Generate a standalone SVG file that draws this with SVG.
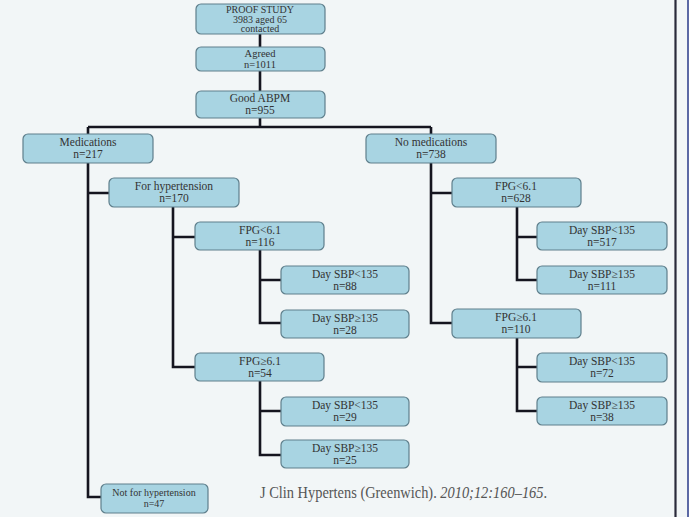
<svg xmlns="http://www.w3.org/2000/svg" width="689" height="517" viewBox="0 0 689 517">
<style>
.b{fill:#a8d4e2;stroke:#5f7f8c;stroke-width:1.2}
.t{font-family:"Liberation Serif","Times New Roman","DejaVu Serif",serif;font-size:11.5px;fill:#333;text-anchor:middle}
.s{font-size:10px}
.m{font-size:10.5px}
.c{fill:none;stroke:#15151f;stroke-width:2.6}
.cite{font-family:"Liberation Serif","Times New Roman","DejaVu Serif",serif;font-size:16px;fill:#555}
</style>
<rect width="689" height="517" fill="#f2f6f7"/>
<line x1="675.5" y1="0" x2="675.5" y2="517" stroke="#2a2a3a" stroke-width="2.2"/>
<line x1="688" y1="0" x2="688" y2="517" stroke="#2a3a8a" stroke-width="1.5"/>
<g id="connectors" class="c">
<path d="M260 34V47M260 71V91M260 118V127M88 127H431M88 127V134M431 127V134"/>
<path d="M88 163V497H101M88 193H109"/>
<path d="M173 207V367H195M173 237H195"/>
<path d="M260 250V323H281M260 280H281"/>
<path d="M260 381V455H281M260 411H281"/>
<path d="M431 163V323H452M431 193H452"/>
<path d="M517 207V280H537M517 237H537"/>
<path d="M517 338V411H537M517 367H537"/>
</g>
<g id="proof"><rect class="b" x="196" y="4" width="129" height="30" rx="5"/><text class="t s" x="260" y="12.5">PROOF STUDY</text><text class="t s" x="260" y="22.5">3983  aged 65</text><text class="t s" x="260" y="32">contacted</text></g>
<g id="agreed"><rect class="b" x="196" y="47" width="129" height="24" rx="5"/><text class="t m" x="260" y="57">Agreed</text><text class="t m" x="260" y="68">n=1011</text></g>
<g id="abpm"><rect class="b" x="196" y="91" width="129" height="27" rx="5"/><text class="t" x="260" y="102">Good ABPM</text><text class="t" x="260" y="114">n=955</text></g>
<g id="meds"><rect class="b" x="23" y="134" width="130" height="29" rx="5"/><text class="t" x="88" y="146">Medications</text><text class="t" x="88" y="158">n=217</text></g>
<g id="nomeds"><rect class="b" x="366" y="134" width="130" height="29" rx="5"/><text class="t" x="431" y="146">No medications</text><text class="t" x="431" y="158">n=738</text></g>
<g id="forhyp"><rect class="b" x="109" y="178" width="130" height="29" rx="5"/><text class="t" x="174" y="190">For hypertension</text><text class="t" x="174" y="202">n=170</text></g>
<g id="l-fpglo"><rect class="b" x="195" y="222" width="129" height="28" rx="5"/><text class="t" x="260" y="234">FPG&lt;6.1</text><text class="t" x="260" y="246">n=116</text></g>
<g id="l-lo-lo"><rect class="b" x="281" y="266" width="128" height="28" rx="5"/><text class="t" x="345" y="278">Day SBP&lt;135</text><text class="t" x="345" y="290">n=88</text></g>
<g id="l-lo-hi"><rect class="b" x="281" y="310" width="128" height="28" rx="5"/><text class="t" x="345" y="322">Day SBP≥135</text><text class="t" x="345" y="334">n=28</text></g>
<g id="l-fpghi"><rect class="b" x="195" y="353" width="129" height="28" rx="5"/><text class="t" x="260" y="365">FPG≥6.1</text><text class="t" x="260" y="377">n=54</text></g>
<g id="l-hi-lo"><rect class="b" x="281" y="397" width="128" height="29" rx="5"/><text class="t" x="345" y="409">Day SBP&lt;135</text><text class="t" x="345" y="421">n=29</text></g>
<g id="l-hi-hi"><rect class="b" x="281" y="440" width="128" height="28" rx="5"/><text class="t" x="345" y="452">Day SBP≥135</text><text class="t" x="345" y="464">n=25</text></g>
<g id="nothyp"><rect class="b" x="101" y="484" width="107" height="29" rx="5"/><text class="t s" x="154" y="496">Not for hypertension</text><text class="t s" x="154" y="506.5">n=47</text></g>
<g id="r-fpglo"><rect class="b" x="452" y="178" width="129" height="29" rx="5"/><text class="t" x="516" y="190">FPG&lt;6.1</text><text class="t" x="516" y="202">n=628</text></g>
<g id="r-lo-lo"><rect class="b" x="537" y="222" width="130" height="28" rx="5"/><text class="t" x="602" y="234">Day SBP&lt;135</text><text class="t" x="602" y="246">n=517</text></g>
<g id="r-lo-hi"><rect class="b" x="537" y="266" width="130" height="28" rx="5"/><text class="t" x="602" y="278">Day SBP≥135</text><text class="t" x="602" y="290">n=111</text></g>
<g id="r-fpghi"><rect class="b" x="452" y="309" width="129" height="29" rx="5"/><text class="t" x="516" y="321">FPG≥6.1</text><text class="t" x="516" y="333">n=110</text></g>
<g id="r-hi-lo"><rect class="b" x="537" y="353" width="130" height="29" rx="5"/><text class="t" x="602" y="365">Day SBP&lt;135</text><text class="t" x="602" y="377">n=72</text></g>
<g id="r-hi-hi"><rect class="b" x="537" y="397" width="130" height="28" rx="5"/><text class="t" x="602" y="409">Day SBP≥135</text><text class="t" x="602" y="421">n=38</text></g>
<text class="cite" transform="translate(260,498) scale(0.9,1)">J Clin Hypertens (Greenwich). <tspan font-style="italic">2010;12:160–165</tspan>.</text>
</svg>
